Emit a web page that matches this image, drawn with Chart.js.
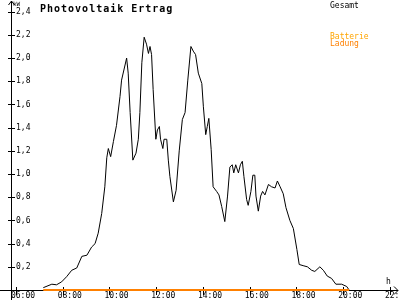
<!DOCTYPE html>
<html><head><meta charset="utf-8">
<script src="https://cdn.jsdelivr.net/npm/chart.js@4"></script>
<style>html,body{margin:0;padding:0;background:#fff}#wrap{width:400px;height:300px;position:relative}</style>
</head><body><div id="wrap"><canvas id="c" width="400" height="300"></canvas></div>
<script>
const times = ["07:10","07:32","07:44","07:57","08:10","08:23","08:36","08:49","09:02","09:14","09:23","09:31","09:40","09:48","09:53","09:57","10:03","10:10","10:18","10:27","10:31","10:44","10:48","10:53","11:00","11:08","11:14","11:18","11:23","11:29","11:35","11:40","11:44","11:48","11:52","11:59","12:03","12:08","12:11","12:17","12:20","12:27","12:31","12:35","12:44","12:51","12:59","13:07","13:14","13:21","13:29","13:35","13:41","13:48","13:57","14:01","14:07","14:11","14:15","14:21","14:26","14:35","14:41","14:48","14:56","15:03","15:09","15:15","15:19","15:24","15:31","15:36","15:41","15:45","15:52","15:56","16:03","16:08","16:13","16:16","16:22","16:28","16:33","16:39","16:48","16:56","17:05","17:11","17:18","17:26","17:33","17:43","17:52","18:01","18:07","18:17","18:28","18:39","18:47","19:00","19:09","19:19","19:30","19:41","19:56","20:09","20:15"];
const gesamt = [0.02,0.05,0.045,0.07,0.115,0.17,0.19,0.29,0.30,0.37,0.40,0.49,0.66,0.89,1.14,1.22,1.15,1.28,1.42,1.67,1.81,2.00,1.87,1.53,1.12,1.18,1.30,1.53,1.96,2.18,2.12,2.04,2.10,2.03,1.73,1.30,1.38,1.41,1.30,1.22,1.30,1.30,1.12,0.98,0.76,0.86,1.20,1.47,1.53,1.81,2.10,2.06,2.03,1.87,1.78,1.58,1.34,1.41,1.48,1.21,0.89,0.85,0.82,0.72,0.59,0.81,1.06,1.08,1.01,1.08,1.01,1.08,1.11,0.98,0.78,0.73,0.85,0.99,0.99,0.81,0.68,0.81,0.85,0.82,0.91,0.89,0.88,0.94,0.89,0.83,0.71,0.60,0.53,0.35,0.22,0.21,0.20,0.17,0.16,0.20,0.17,0.12,0.10,0.05,0.05,0.03,0.00];
const ladungTimes = ["07:10","20:15"];
const ladung = [0,0];
const xTickHours = [6,8,10,12,14,16,18,20,22];
const yTickValues = [0.2,0.4,0.6,0.8,1.0,1.2,1.4,1.6,1.8,2.0,2.2,2.4];
const titleText = "Photovoltaik Ertrag";
const unitY = "kW";
const unitX = "h";
const legendGesamt = "Gesamt";
const legendBatt1 = "Batterie";
const legendBatt2 = "Ladung";

const toH = t => { const [h,m] = t.split(':').map(Number); return h + m/60; };
const pad2 = n => String(n).padStart(2,'0');
const MONO = '"DejaVu Sans Mono", monospace';

const axesPlugin = {
  id: 'axesDeco',
  beforeDatasetsDraw(chart) {
    const {ctx, chartArea: a, scales: {x, y}} = chart;
    ctx.save();
    ctx.strokeStyle = '#000';
    ctx.lineWidth = 1;
    ctx.beginPath();
    ctx.moveTo(a.left + 0.5, 300); ctx.lineTo(a.left + 0.5, 1);
    ctx.moveTo(a.left - 2.5, 5); ctx.lineTo(a.left + 0.5, 1); ctx.lineTo(a.left + 3.5, 5);
    ctx.moveTo(0, a.bottom + 0.5); ctx.lineTo(a.right + 1, a.bottom + 0.5);
    ctx.moveTo(a.right - 3, a.bottom - 3.5); ctx.lineTo(a.right + 1, a.bottom + 0.5); ctx.lineTo(a.right - 3, a.bottom + 4.5);
    xTickHours.forEach(v => {
      const px = Math.round(x.getPixelForValue(v)) + 0.5;
      ctx.moveTo(px, a.bottom - 3); ctx.lineTo(px, a.bottom + 5);
    });
    yTickValues.forEach(v => {
      const py = Math.round(y.getPixelForValue(v)) + 0.5;
      ctx.moveTo(a.left - 3, py); ctx.lineTo(a.left + 4, py);
    });
    ctx.stroke();
    ctx.restore();
  },
  afterDraw(chart) {
    const {ctx} = chart;
    ctx.save();
    ctx.textBaseline = 'alphabetic';
    ctx.textAlign = 'left';
    ctx.fillStyle = '#000';
    ctx.font = 'bold 10px ' + MONO;
    ctx.letterSpacing = '1px';
    ctx.fillText(titleText, 40, 12);
    ctx.letterSpacing = '0px';
    ctx.font = '8px ' + MONO;
    ctx.fillText(legendGesamt, 330, 8);
    ctx.fillStyle = '#ffa500';
    ctx.fillText(legendBatt1, 330, 39);
    ctx.fillStyle = '#ff8000';
    ctx.fillText(legendBatt2, 330, 46);
    ctx.fillStyle = '#000';
    ctx.fillText(unitX, 386, 284);
    ctx.font = '6px ' + MONO;
    ctx.fillText(unitY, 13, 6);
    ctx.restore();
  }
};

new Chart(document.getElementById('c'), {
  type: 'line',
  data: {
    datasets: [
      {
        label: legendBatt2,
        data: ladungTimes.map((t, i) => ({x: toH(t), y: ladung[i]})),
        borderColor: '#ff8000',
        borderWidth: 2,
        pointRadius: 0,
        tension: 0,
        clip: false
      },
      {
        label: legendGesamt,
        data: times.map((t, i) => ({x: toH(t), y: gesamt[i]})),
        borderColor: '#000000',
        borderWidth: 1,
        pointRadius: 0,
        tension: 0,
        clip: false
      }
    ]
  },
  options: {
    responsive: false,
    animation: false,
    devicePixelRatio: 1,
    layout: {padding: {left: 11, right: 3, top: 3, bottom: 0}},
    plugins: {legend: {display: false}, tooltip: {enabled: false}, title: {display: false}},
    scales: {
      x: {
        type: 'linear',
        min: 5.786,
        max: 22.3,
        grid: {display: false, drawTicks: false},
        border: {display: false},
        afterBuildTicks: axis => { axis.ticks = xTickHours.map(v => ({value: v})); },
        afterFit: axis => { axis.paddingLeft = 0; axis.paddingRight = 0; axis.height = 10; },
        ticks: {
          autoSkip: false,
          maxRotation: 0,
          padding: 1,
          labelOffset: 7,
          color: '#000',
          font: {family: MONO, size: 8},
          callback: v => pad2(v) + ':00'
        }
      },
      y: {
        min: 0,
        max: 2.475,
        grid: {display: false, drawTicks: false},
        border: {display: false},
        afterBuildTicks: axis => { axis.ticks = yTickValues.map(v => ({value: v})); },
        afterFit: axis => { axis.width = 0; axis.paddingTop = 0; axis.paddingBottom = 0; },
        ticks: {
          mirror: true,
          padding: 5,
          color: '#000',
          font: {family: MONO, size: 8},
          callback: v => v.toFixed(1).replace('.', ',')
        }
      }
    }
  },
  plugins: [axesPlugin]
});
</script>
</body></html>
